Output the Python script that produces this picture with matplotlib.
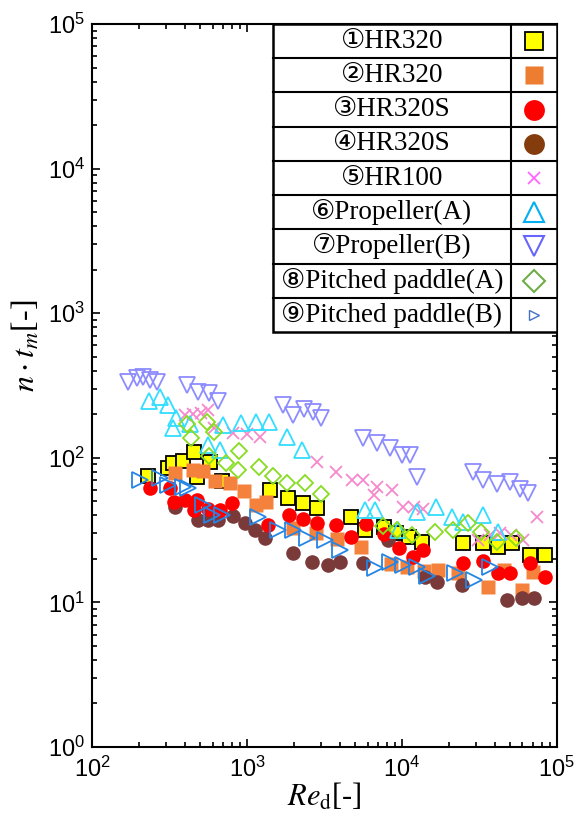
import numpy as np
import matplotlib
matplotlib.use('Agg')
import matplotlib.pyplot as plt
from matplotlib.patches import Rectangle

plt.rcParams['font.family'] = ['Liberation Sans', 'DejaVu Sans']
plt.rcParams['mathtext.fontset'] = 'stix'

# Data (Re_d, n*t_m)
re_1 = [230, 309, 333, 387, 455, 476, 577, 690, 1407, 1839, 2298, 2830, 4690, 5770, 7650,
        9150, 11100, 13460, 24800, 33300, 41600, 51300, 67000, 83700]
nt_1 = [74.8, 84.9, 92.0, 95.0, 109.6, 73.6, 93.5, 69.1, 59.9, 52.7, 48.6, 45.2, 39.0, 31.7, 33.2,
        30.2, 28.3, 26.2, 25.8, 25.8, 24.2, 25.8, 21.3, 21.3]

re_2 = [343, 448, 520, 622, 777, 956, 1143, 1326, 1982, 2790, 3810, 5440, 8490, 10770, 13870,
        17100, 23000, 35900, 45500, 59400, 70000]
nt_2 = [78.5, 82.4, 81.1, 69.1, 67.0, 58.9, 47.2, 49.4, 32.7, 30.2, 27.4, 24.2, 18.4, 17.6, 16.6,
        16.7, 15.95, 12.8, 16.7, 12.2, 16.2]

re_3 = [237, 318, 338, 398, 476, 455, 560, 670, 800, 1366, 1866, 2298, 2830, 3750, 4690, 5860,
        7650, 9570, 11780, 13650, 24800, 33300, 41600, 49700, 67000, 83700]
nt_3 = [61.8, 61.8, 49.4, 51.1, 51.1, 43.5, 44.5, 43.5, 48.6, 34.3, 40.2, 37.8, 35.4, 34.3, 28.3, 34.8,
        29.7, 23.8, 20.6, 23.0, 18.7, 19.3, 15.95, 15.95, 18.7, 15.0]

re_4 = [343, 483, 560, 650, 812, 971, 1127, 1306, 1982, 2627, 3330, 3980, 5600, 8120, 14070,
        16800, 24400, 47600, 59400, 71100]
nt_4 = [45.7, 37.2, 37.2, 37.2, 39.6, 35.4, 31.7, 27.9, 22.0, 19.0, 18.1, 19.0, 18.7, 27.0, 15.0,
        13.8, 13.2, 10.4, 10.7, 10.7]

re_5 = [398, 448, 505, 560, 612, 812, 1000, 1213, 2830, 3750, 4760, 5600, 6900, 6600, 8620,
        10150, 11950, 13650, 30900, 37000, 42900, 50500, 60300, 74300]
nt_5 = [198, 201, 204, 214, 161, 148, 146, 139, 93.5, 79.8, 70.2, 70.2, 63.0, 55.3, 59.9,
        45.7, 45.7, 44.5, 27.0, 29.2, 30.2, 29.2, 27.0, 39.0]

re_6 = [233, 275, 309, 348, 333, 429, 560, 670, 700, 915, 1143, 1387, 1811, 2264, 5770, 6700,
        9420, 12500, 16600, 21000, 24800, 33300, 41600]
nt_6 = [247, 263, 232, 188, 161, 171, 123, 113, 169, 174, 177, 177, 139, 113, 43.5, 43.5,
        31.7, 42.2, 45.7, 39.0, 36.0, 40.2, 30.7]

re_7 = [171, 195, 213, 237, 263, 410, 483, 569, 650, 1707, 1982, 2333, 2667, 3000, 5600, 6900,
        8370, 10000, 11270, 12500, 28700, 33300, 41000, 49700, 57700, 65000]
nt_7 = [334, 356, 362, 345, 334, 319, 285, 280, 247, 232, 198, 218, 208, 188, 137, 126,
        117, 104, 104, 73.6, 79.8, 70.2, 65.9, 68.0, 60.9, 57.2]

re_8 = [410, 435, 552, 612, 569, 732, 888, 875, 1195, 1472, 1811, 2367, 3000, 7540, 9290,
        11600, 16300, 21300, 26700, 32300, 41000, 54400]
nt_8 = [171, 137, 177, 151, 103, 92.0, 111, 82.4, 86.4, 74.8, 67.0, 67.0, 56.2, 33.7, 31.7,
        29.2, 30.7, 31.7, 35.4, 30.7, 26.2, 27.9]

re_9 = [204, 275, 309, 387, 416, 520, 595, 690, 1178, 1585, 1982, 2440, 3190, 3980, 6700, 8370,
        10150, 12500, 14500, 22000, 29100, 37000]
nt_9 = [70.2, 72.4, 64.9, 63.0, 61.8, 47.2, 40.2, 40.2, 39.0, 31.7, 31.7, 27.9, 27.0, 23.0, 17.3, 19.0,
        18.1, 17.6, 15.2, 15.95, 14.3, 17.6]

labels = ['①HR320', '②HR320', '③HR320S', '④HR320S', '⑤HR100',
          '⑥Propeller(A)', '⑦Propeller(B)', '⑧Pitched paddle(A)', '⑨Pitched paddle(B)']

styles = [
    dict(marker='s', mfc='#ffff00', mec='black', ms=10.5, mew=1.3),
    dict(marker='s', mfc='#f4823c', mec='none', ms=10.5),
    dict(marker='o', mfc='#ff0000', mec='none', ms=10.5),
    dict(marker='o', mfc='#7b3a3a', mec='none', ms=10.5),
    dict(marker='x', mfc='none', mec='#f589cc', ms=8, mew=1.3),
    dict(marker='^', mfc='none', mec='#33ddff', ms=11, mew=1.3),
    dict(marker='v', mfc='none', mec='#8c8cff', ms=11, mew=1.3),
    dict(marker='D', mfc='none', mec='#88dd22', ms=8.5, mew=1.3),
    dict(marker='>', mfc='none', mec='#2585e5', ms=11, mew=1.3),
]
legend_styles = [
    dict(marker='s', mfc='#ffff00', mec='black', ms=13, mew=1.3),
    dict(marker='s', mfc='#ed7d31', mec='none', ms=13),
    dict(marker='o', mfc='#ff0000', mec='none', ms=15),
    dict(marker='o', mfc='#843c0c', mec='none', ms=15),
    dict(marker='x', mfc='none', mec='#ff66ff', ms=9, mew=1.3),
    dict(marker='^', mfc='none', mec='#00b0f0', ms=14, mew=1.5),
    dict(marker='v', mfc='none', mec='#6666ff', ms=14, mew=1.5),
    dict(marker='D', mfc='none', mec='#70ad47', ms=11, mew=1.5),
    dict(marker='>', mfc='none', mec='#4472c4', ms=7, mew=1.0),
]

series = [(re_1, nt_1), (re_2, nt_2), (re_3, nt_3), (re_4, nt_4), (re_5, nt_5),
          (re_6, nt_6), (re_7, nt_7), (re_8, nt_8), (re_9, nt_9)]
draw_order = [0, 1, 3, 2, 8, 4, 5, 6, 7]

fig = plt.figure(figsize=(5.88, 8.27), dpi=100)
ax = fig.add_axes([0.1565, 0.0967, 0.7905, 0.8743])

for i in draw_order:
    x, y = series[i]
    ax.plot(x, y, ls='none', **styles[i])

ax.set_xscale('log')
ax.set_yscale('log')
ax.set_xlim(1e2, 1e5)
ax.set_ylim(1e0, 1e5)

for s in ax.spines.values():
    s.set_linewidth(1.5)
ax.tick_params(which='both', direction='in', top=True, right=True, width=1.2)
ax.tick_params(which='major', length=6, labelsize=17)
ax.tick_params(axis='x', which='major', pad=7)
ax.tick_params(axis='y', which='major', pad=5)
ax.tick_params(which='minor', length=3.5)

ax.set_xlabel(r'$Re_{\mathrm{d}}$[-]', fontsize=22, family='Liberation Serif', labelpad=0)
ax.set_ylabel(r'$n\cdot t_m$[-]', fontsize=23, family='Liberation Serif')
ax.yaxis.set_label_coords(-0.107, 0.555)

# table-style legend in the upper right
x0, xd, x1 = 0.389, 0.901, 1.0
y_top, y_bot = 1.0, 0.574
row_h = (y_top - y_bot) / len(labels)
ax.add_patch(Rectangle((x0, y_bot), x1 - x0, y_top - y_bot, transform=ax.transAxes,
                       facecolor='white', edgecolor='black', lw=1.8, zorder=5))
ax.plot([xd, xd], [y_bot, y_top], transform=ax.transAxes, color='black', lw=1.5, zorder=6)
for k, lab in enumerate(labels):
    yc = y_top - (k + 0.5) * row_h
    if k > 0:
        yl = y_top - k * row_h
        ax.plot([x0, x1], [yl, yl], transform=ax.transAxes, color='black', lw=1.5, zorder=6)
    ax.text((x0 + xd) / 2, yc, lab, transform=ax.transAxes, ha='center', va='center',
            fontsize=19.5, family=['Liberation Serif', 'DejaVu Sans'], zorder=7)
    ax.plot([(xd + x1) / 2], [yc], transform=ax.transAxes, ls='none', zorder=7,
            clip_on=False, **legend_styles[k])

fig.savefig('out.png', dpi=100)
